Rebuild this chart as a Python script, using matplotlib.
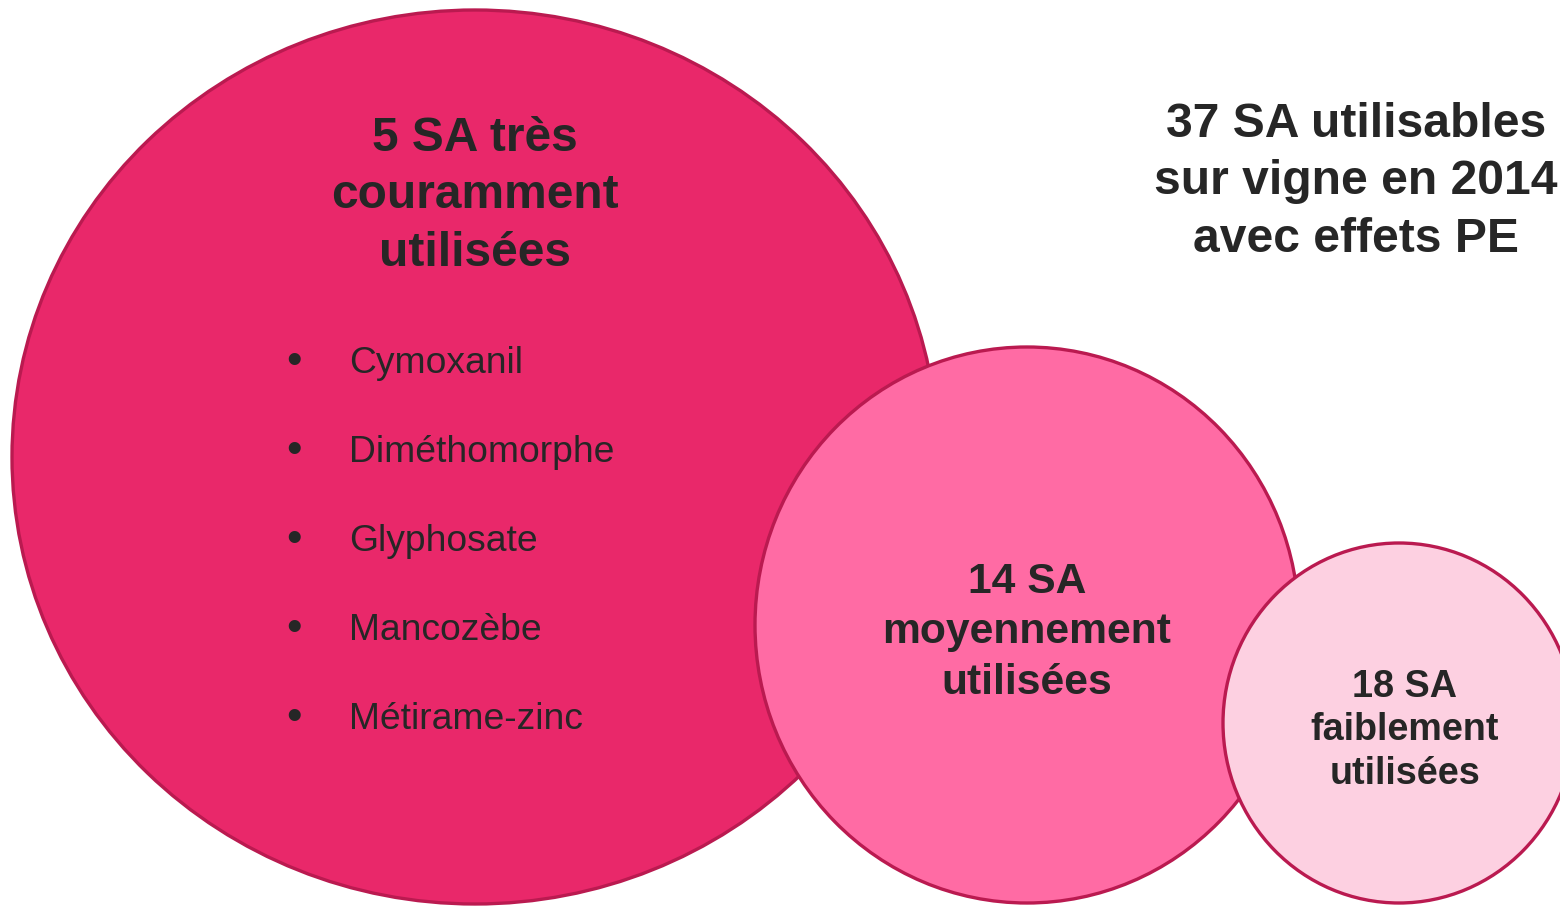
"""Bubble diagram: active substances (SA) used on vines in 2014 with endocrine effects (PE)."""
import matplotlib
matplotlib.use("Agg")
import matplotlib.pyplot as plt
from matplotlib.patches import Ellipse

# data
counts = [5, 14, 18]
usage = ["très couramment", "moyennement", "faiblement"]
top_substances = ["Cymoxanil", "Diméthomorphe", "Glyphosate", "Mancozèbe", "Métirame-zinc"]
total_sa = 37
year = 2014

# layout (pixels, y down)
W, H = 1560, 906
circles = [  # cx, cy, width, height
    (475, 457, 926, 894),
    (1027, 625, 544, 556),
    (1399, 723, 352, 360),
]
fills = ["#E9286A", "#FF6BA4", "#FDD0E1"]
edge = "#BA1A50"
ink = "#262626"

label_lines = [
    [f"{counts[0]} SA très", "couramment", "utilisées"],
    [f"{counts[1]} SA", usage[1], "utilisées"],
    [f"{counts[2]} SA", usage[2], "utilisées"],
]
label_x = [475, 1027, 1405]
label_base = [151, 593, 697]
label_step = [57.5, 50.5, 43.5]
label_size = [34.5, 30.7, 27.2]

plt.rcParams["font.family"] = ["Liberation Sans", "DejaVu Sans"]

fig = plt.figure(figsize=(W / 100, H / 100), dpi=100)
ax = fig.add_axes([0, 0, 1, 1])
ax.set_xlim(0, W)
ax.set_ylim(H, 0)
ax.axis("off")

for (cx, cy, w, h), fc in zip(circles, fills):
    ax.add_patch(Ellipse((cx, cy), w, h, facecolor=fc, edgecolor=edge, linewidth=2.4))

for x, lines, y0, dy, fs in zip(label_x, label_lines, label_base, label_step, label_size):
    for i, line in enumerate(lines):
        ax.text(x, y0 + i * dy, line, ha="center", va="baseline",
                fontsize=fs, fontweight="bold", color=ink)

# list of most used substances in the big circle
for i, name in enumerate(top_substances):
    y = 373 + i * 89
    ax.text(294, y + 1, "•", ha="center", va="baseline", fontsize=32, color=ink)
    ax.text(349, y, name, ha="left", va="baseline", fontsize=26.8, color=ink)

side = [f"{total_sa} SA utilisables", f"sur vigne en {year}", "avec effets PE"]
for i, line in enumerate(side):
    ax.text(1356, 137 + i * 57.5, line, ha="center", va="baseline",
            fontsize=34.6, fontweight="bold", color=ink)

fig.savefig("out.png", dpi=100)
plt.close(fig)
